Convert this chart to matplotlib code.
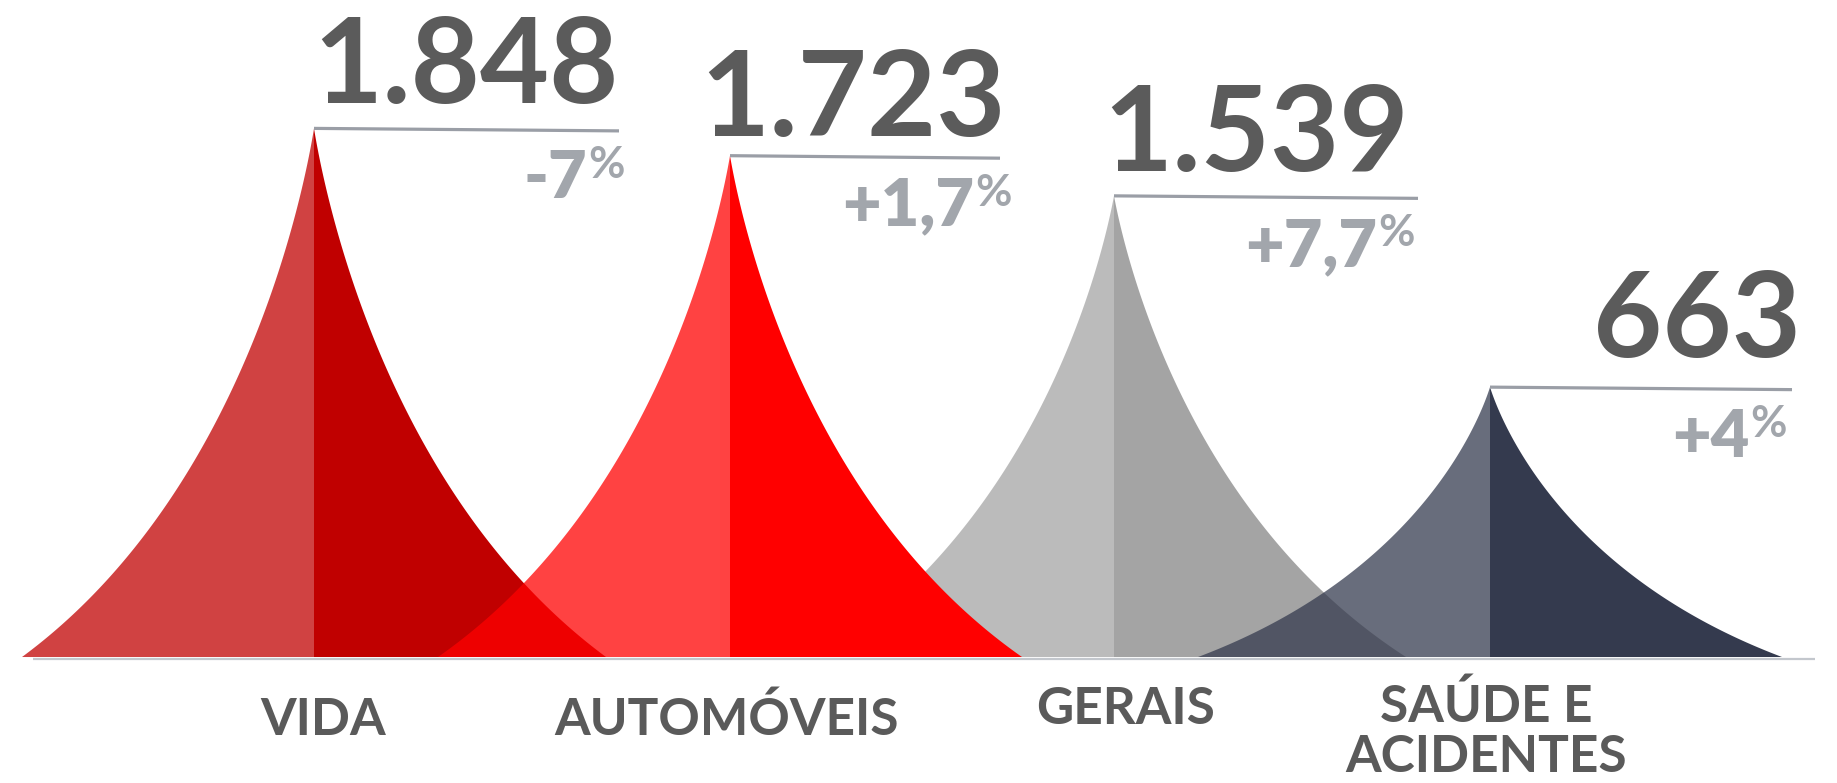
import numpy as np
import matplotlib
matplotlib.use("Agg")
import matplotlib.pyplot as plt

# ---------------- data ----------------
categories = ["VIDA", "AUTOMÓVEIS", "GERAIS", "SAÚDE E\nACIDENTES"]
values = [1848, 1723, 1539, 663]
changes = [-7.0, 1.7, 7.7, 4.0]

# ---------------- style / layout ----------------
colors = ["#c00000", "#ff0000", "#a4a4a4", "#343a4e"]
zorders = [1, 2, 1, 3]
left_alpha = 0.74

W, H = 1837, 783
peak_x = [314, 730, 1114, 1490]       # horizontal position of each fin (px)
half_w = 292                          # half width of each fin (px)
line_len = [305, 270, 304, 302]       # length of the top rule (px)
value_right = [619, 1006, 1409, 1801]
value_gap = [25, 20, 25, 30]
pct_right = [625, 1012, 1415, 1787]
label_x = [323, 727, 1126, 1486]
label_base = [735, 735, 724, 722]     # px from top
label_step = 50

y_base = -573      # value level of the fin base
y_top = 2436
y_bottom = -1150
val_per_px = (y_top - y_bottom) / H

FONT = "Lato"
VAL_COLOR = "#5b5b5b"
PCT_COLOR = "#a2a6ac"
RULE_COLOR = "#9a9ea6"
LABEL_COLOR = "#5a5a5a"

fig = plt.figure(figsize=(W / 100, H / 100), dpi=100)
ax = fig.add_axes([0, 0, 1, 1])
ax.set_xlim(0, W)
ax.set_ylim(y_bottom, y_top)
ax.axis("off")

# fin profile: cubic Bezier in normalised (distance-from-peak, height) space
s = np.linspace(0, 1, 400)
P = np.array([[0.0, 1.0], [0.035, 0.88], [0.24, 0.31], [1.0, 0.0]])
Bm = np.stack([(1 - s) ** 3, 3 * s * (1 - s) ** 2, 3 * s ** 2 * (1 - s), s ** 3], axis=1)
prof = Bm @ P

for i, v in enumerate(values):
    px = peak_x[i]
    h = v - y_base
    tx = prof[:, 0] * half_w
    fy = y_base + prof[:, 1] * h
    yy = np.concatenate([[y_base], fy, [y_base]])
    xl = np.concatenate([[px], px - tx, [px]])
    xr = np.concatenate([[px], px + tx, [px]])
    ax.fill(xl, yy, color=colors[i], alpha=left_alpha, lw=0, zorder=zorders[i])
    ax.fill(xr, yy, color=colors[i], lw=0, zorder=zorders[i])

# base rule
ax.plot([33, 1815], [y_base - 1.5 * val_per_px] * 2, color="#c3c7cd", lw=1.6,
        solid_capstyle="butt", zorder=4)

renderer = fig.canvas.get_renderer()

for i, v in enumerate(values):
    px = peak_x[i]
    ax.plot([px, px + line_len[i]], [v, v - 2.5 * val_per_px], color=RULE_COLOR,
            lw=2.3, solid_capstyle="butt", zorder=5)
    txt = f"{v:,}".replace(",", ".")
    ax.annotate(txt, xy=(value_right[i], v), xytext=(0, value_gap[i]),
                textcoords="offset pixels", ha="right", va="baseline",
                fontsize=86, fontweight="bold", color=VAL_COLOR, family=FONT,
                zorder=6)
    c = changes[i]
    ctxt = f"{c:+g}".replace(".", ",")
    pt = ax.annotate("%", xy=(pct_right[i], v), xytext=(0, -50),
                     textcoords="offset pixels", ha="right", va="baseline",
                     fontsize=32, fontweight="bold", color=PCT_COLOR, family=FONT,
                     zorder=6)
    wpct = pt.get_window_extent(renderer).width
    ax.annotate(ctxt, xy=(pct_right[i], v), xytext=(-wpct - 1, -70),
                textcoords="offset pixels", ha="right", va="baseline",
                fontsize=48, fontweight="heavy", color=PCT_COLOR, family=FONT,
                zorder=6)

for i, cat in enumerate(categories):
    for j, line in enumerate(cat.split("\n")):
        fig.text(label_x[i] / W, 1 - (label_base[i] + j * label_step) / H, line,
                 ha="center", va="baseline", fontsize=37, fontweight="bold",
                 color=LABEL_COLOR, family=FONT)

fig.savefig("out.png", dpi=100, facecolor="white")
